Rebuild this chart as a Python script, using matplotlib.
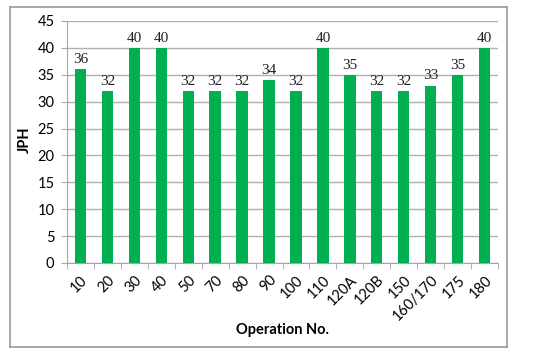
import numpy as np
import matplotlib
matplotlib.use('Agg')
import matplotlib.pyplot as plt

# operations and jobs per hour
operations = ['10', '20', '30', '40', '50', '70', '80', '90', '100', '110',
              '120A', '120B', '150', '160/170', '175', '180']
jph = [36, 32, 40, 40, 32, 32, 32, 34, 32, 40, 35, 32, 32, 33, 35, 40]

plt.rcParams['font.family'] = ['Lato', 'DejaVu Sans']

fig = plt.figure(figsize=(5.4, 3.57), dpi=100)

# outer chart border as an empty axes frame
frame = fig.add_axes([10/540, 1-347/357, 497/540, 340/357], zorder=-1)
frame.set_xticks([])
frame.set_yticks([])
for s in frame.spines.values():
    s.set_color('#999999')
    s.set_linewidth(1.2)

ax = fig.add_axes([67/540, 1-263/357, (498-67)/540, (263-21)/357])
ax.patch.set_alpha(0)

x_pos = np.arange(len(operations))
ax.bar(x_pos, jph, width=0.42, color='#00B050', zorder=3)

for x, v in zip(x_pos, jph):
    ax.text(x, v + 0.6, str(v), ha='center', va='bottom', fontsize=11,
            family=['Liberation Serif', 'DejaVu Serif'], color='#222222')

ax.set_xlim(-0.5, len(operations) - 0.5)
ax.set_ylim(0, 45)
ax.set_yticks(np.arange(0, 46, 5))
ax.yaxis.grid(True, color='#b0b0b0', linewidth=1.0, zorder=0)

ax.set_xticks(x_pos)
ax.set_xticklabels(operations, rotation=45, ha='right', rotation_mode='anchor')
ax.set_xticks(np.arange(-0.5, len(operations), 1), minor=True)
ax.tick_params(axis='x', which='major', length=0, labelsize=10.5, pad=7)
ax.tick_params(axis='x', which='minor', length=4, color='#a6a6a6')
ax.tick_params(axis='y', length=4, color='#a6a6a6', labelsize=10.5, pad=5)

for s in ['top', 'right']:
    ax.spines[s].set_visible(False)
for s in ['left', 'bottom']:
    ax.spines[s].set_color('#a6a6a6')

fig.text(25/540, 1-140/357, 'JPH', fontweight='bold', fontsize=10.5,
         rotation=90, ha='center', va='center')
fig.text(282/540, 1-330/357, 'Operation No.', fontweight='bold', fontsize=10.5,
         ha='center', va='center')

fig.savefig('out.png', dpi=100)
